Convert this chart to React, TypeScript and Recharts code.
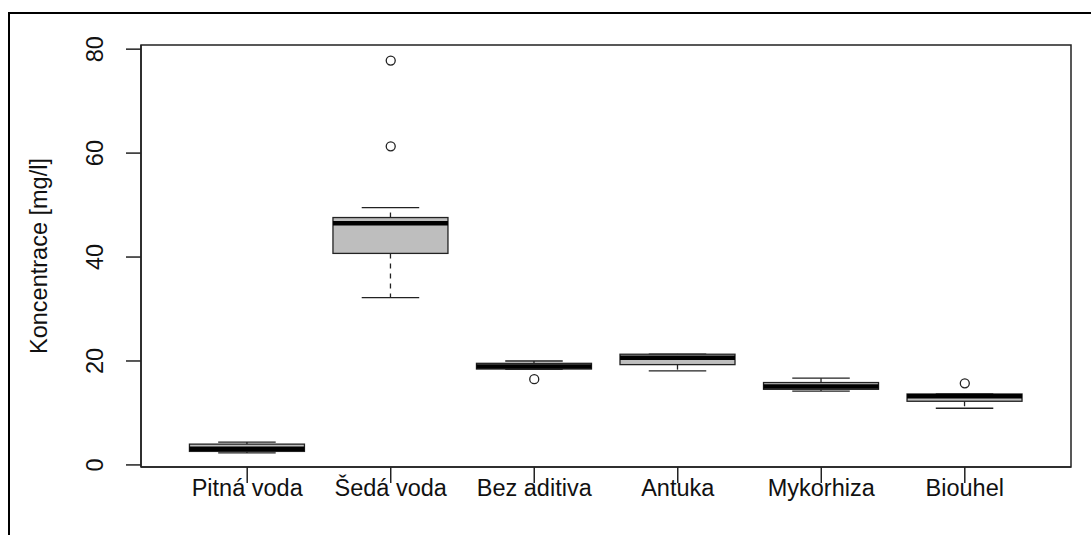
import React from 'react';
import {
  ComposedChart,
  Bar,
  Scatter,
  XAxis,
  YAxis,
  Label,
  ReferenceArea,
} from 'recharts';

const categories = ['Pitná voda', 'Šedá voda', 'Bez aditiva', 'Antuka', 'Mykorhiza', 'Biouhel'];
const lowWhisker = [2.3, 32.2, 18.4, 18.1, 14.2, 10.9];
const lowerQuartile = [2.6, 40.7, 18.45, 19.3, 14.55, 12.25];
const medians = [3.1, 46.5, 18.95, 20.6, 15.1, 13.2];
const upperQuartile = [4.0, 47.6, 19.55, 21.3, 15.85, 13.65];
const highWhisker = [4.4, 49.5, 20.0, 21.3, 16.7, 13.65];

const outlierNames = ['Šedá voda', 'Šedá voda', 'Bez aditiva', 'Biouhel'];
const outlierValues = [77.8, 61.3, 16.5, 15.7];

const yTicks = [0, 20, 40, 60, 80];
const xDomain = [0.26, 6.74];
const yDomain = [-0.4, 80.8];

const FONT = "'Liberation Sans', Arial, sans-serif";
const FONT_SIZE = 23.5;
const INK = '#222';

const boxData = categories.map((name, i) => ({
  pos: i + 1,
  name,
  low: lowWhisker[i],
  q1: lowerQuartile[i],
  med: medians[i],
  q3: upperQuartile[i],
  high: highWhisker[i],
}));

const outlierData = outlierValues.map((v, i) => ({
  pos: categories.indexOf(outlierNames[i]) + 1,
  v,
}));

const BoxShape = (props: any) => {
  const { x, y, width, height, payload } = props;
  const top = Math.min(y, y + height);
  const bottom = Math.max(y, y + height);
  const span = payload.high - payload.low;
  const k = span > 0 ? (bottom - top) / span : 0;
  const py = (v: number) => top + (payload.high - v) * k;
  const cx = x + width / 2;
  const sw = width / 4;
  return (
    <g>
      <line x1={cx} x2={cx} y1={py(payload.q3)} y2={py(payload.high)} stroke={INK} strokeWidth={1.3} strokeDasharray='5 5' />
      <line x1={cx} x2={cx} y1={py(payload.q1)} y2={py(payload.low)} stroke={INK} strokeWidth={1.3} strokeDasharray='5 5' />
      <line x1={cx - sw} x2={cx + sw} y1={py(payload.high)} y2={py(payload.high)} stroke={INK} strokeWidth={1.3} />
      <line x1={cx - sw} x2={cx + sw} y1={py(payload.low)} y2={py(payload.low)} stroke={INK} strokeWidth={1.3} />
      <rect
        x={x}
        y={py(payload.q3)}
        width={width}
        height={py(payload.q1) - py(payload.q3)}
        fill='#BEBEBE'
        stroke={INK}
        strokeWidth={1.3}
      />
      <line x1={x} x2={x + width} y1={py(payload.med)} y2={py(payload.med)} stroke='#000' strokeWidth={4.5} />
    </g>
  );
};

const OutlierDot = (props: any) => (
  <circle cx={props.cx} cy={props.cy} r={4.5} fill='none' stroke={INK} strokeWidth={1.3} />
);

const XTick = ({ x, y, payload }: any) => (
  <text x={x} y={y} dy={11} textAnchor='middle' fontFamily={FONT} fontSize={FONT_SIZE} fill='#111'>
    {categories[payload.value - 1]}
  </text>
);

const YTick = ({ x, y, payload }: any) => {
  const tx = x - 21;
  return (
    <text x={tx} y={y} transform={`rotate(-90 ${tx} ${y})`} textAnchor='middle' fontFamily={FONT} fontSize={FONT_SIZE} fill='#111'>
      {payload.value}
    </text>
  );
};

const YTitle = ({ viewBox }: any) => {
  const tx = viewBox.x + 47;
  const ty = viewBox.y + viewBox.height / 2;
  return (
    <text x={tx} y={ty} transform={`rotate(-90 ${tx} ${ty})`} textAnchor='middle' fontFamily={FONT} fontSize={FONT_SIZE} fill='#111'>
      Koncentrace [mg/l]
    </text>
  );
};

const App = () => {
  return (
    <div style={{ position: 'absolute', left: 0, top: 0, width: 1091, height: 535, overflow: 'hidden', background: '#fff' }}>
      <div
        style={{
          position: 'absolute',
          left: 8,
          top: 12,
          width: 1083,
          height: 523,
          borderLeft: '2px solid #000',
          borderTop: '2px solid #000',
          boxSizing: 'border-box',
        }}
      />
      <div style={{ position: 'absolute', left: 0, top: 0 }}>
        <ComposedChart
          width={1091}
          height={535}
          data={boxData}
          margin={{ top: 45, right: 20, bottom: 18, left: 0 }}
        >
          <XAxis
            dataKey='pos'
            type='number'
            domain={xDomain}
            ticks={[1, 2, 3, 4, 5, 6]}
            tick={<XTick />}
            tickSize={16}
            height={50}
            axisLine={{ stroke: INK, strokeWidth: 1.5 }}
            tickLine={{ stroke: INK, strokeWidth: 1.5 }}
            interval={0}
          />
          <YAxis
            type='number'
            domain={yDomain}
            ticks={yTicks}
            tick={<YTick />}
            tickSize={15}
            width={141}
            axisLine={{ stroke: INK, strokeWidth: 1.5 }}
            tickLine={{ stroke: INK, strokeWidth: 1.5 }}
            interval={0}
          >
            <Label content={<YTitle />} />
          </YAxis>
          <ReferenceArea
            x1={xDomain[0]}
            x2={xDomain[1]}
            y1={yDomain[0]}
            y2={yDomain[1]}
            fill='none'
            fillOpacity={0}
            stroke={INK}
            strokeWidth={1.5}
            ifOverflow='visible'
          />
          <Bar
            dataKey={(d: any) => [d.low, d.high]}
            barSize={115}
            shape={<BoxShape />}
            isAnimationActive={false}
          />
          <Scatter
            data={outlierData}
            dataKey='v'
            shape={<OutlierDot />}
            isAnimationActive={false}
          />
        </ComposedChart>
      </div>
    </div>
  );
};

export default App;
